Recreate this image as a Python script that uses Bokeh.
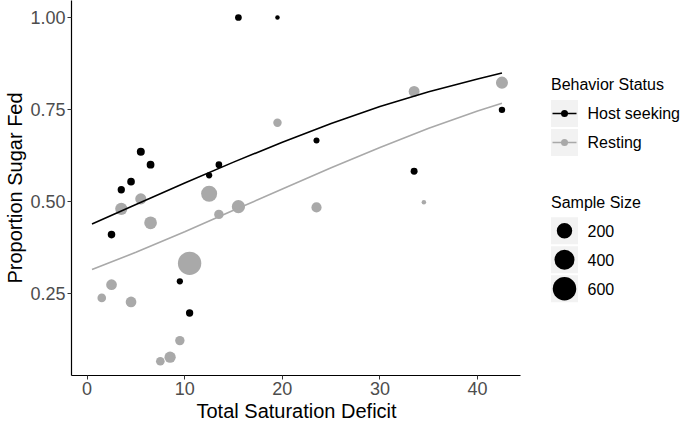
from bokeh.plotting import figure
from bokeh.models import Range1d, NumeralTickFormatter, FixedTicker, Title
from bokeh.core.properties import value
from bokeh.embed import file_html
from bokeh.resources import INLINE
import numpy as np

# ---------------- data ----------------
host_x = [2.5, 3.5, 4.5, 5.5, 6.5, 9.5, 10.5, 12.5, 13.5, 15.5, 19.5, 23.5, 33.5, 42.5]
host_y = [0.410, 0.532, 0.554, 0.635, 0.600, 0.283, 0.197, 0.571, 0.600, 1.000, 1.000, 0.666, 0.582, 0.749]
host_n = [17, 15, 18, 22, 20, 7, 15, 7, 10, 10, 2, 6, 12, 8]

rest_x = [1.5, 2.5, 3.5, 4.5, 5.5, 6.5, 7.5, 8.5, 9.5, 10.5, 12.5, 13.5, 15.5, 19.5, 23.5, 33.5, 34.5, 42.5]
rest_y = [0.238, 0.274, 0.480, 0.227, 0.507, 0.442, 0.066, 0.077, 0.122, 0.332, 0.521, 0.465, 0.486, 0.714, 0.484, 0.799, 0.498, 0.823]
rest_n = [30, 66, 100, 66, 75, 113, 30, 78, 41, 590, 221, 43, 130, 28, 55, 70, 2, 96]

fit_x = [0.5, 5, 10, 15, 20, 25, 30, 35, 40, 42.5]
host_fit = [0.439, 0.492, 0.550, 0.607, 0.661, 0.712, 0.758, 0.798, 0.833, 0.849]
rest_fit = [0.315, 0.362, 0.418, 0.476, 0.534, 0.592, 0.647, 0.699, 0.746, 0.767]

x_ticks = [0, 10, 20, 30, 40]
y_ticks = [0.25, 0.50, 0.75, 1.00]
x_title = "Total Saturation Deficit"
y_title = "Proportion Sugar Fed"
status_labels = ["Host seeking", "Resting"]
size_breaks = [200, 400, 600]

# ---------------- style ----------------
FONT = "Liberation Sans"
BLACK = "#000000"
GREY = "#A9A9A9"
KEY_BG = "#F2F2F2"

FRAME_L, FRAME_R, FRAME_T, FRAME_B = 71, 682, 0, 375   # pixels
PX_PER_X = 9.761
PX_PER_Y = 368.0
X0 = -1.6
X_AXIS_END = 44.4
Y_TOP = 1.0462


def diam(n):
    return 4.5 + 0.777 * np.sqrt(np.maximum(np.asarray(n, dtype=float) - 2, 0))


p = figure(frame_width=FRAME_R - FRAME_L, frame_height=FRAME_B - FRAME_T,
           x_range=Range1d(X0, X0 + (FRAME_R - FRAME_L) / PX_PER_X),
           y_range=Range1d(Y_TOP - (FRAME_B - FRAME_T) / PX_PER_Y, Y_TOP),
           output_backend="svg", toolbar_location=None,
           min_border_left=FRAME_L, min_border_right=0, min_border_top=0, min_border_bottom=0)
p.outline_line_color = None
p.grid.visible = False
p.extra_x_ranges = {"lx": Range1d(FRAME_L, FRAME_R)}
p.extra_y_ranges = {"ly": Range1d(FRAME_B, FRAME_T)}

p.scatter(rest_x, rest_y, size=diam(rest_n), fill_color=GREY, line_color=None)
p.scatter(host_x, host_y, size=diam(host_n), fill_color=BLACK, line_color=None)
p.line(fit_x, host_fit, line_color=BLACK, line_width=1.6)
p.line(fit_x, rest_fit, line_color=GREY, line_width=1.6)

p.xaxis.ticker = FixedTicker(ticks=x_ticks)
p.yaxis.ticker = FixedTicker(ticks=y_ticks)
p.yaxis.formatter = NumeralTickFormatter(format="0.00")
p.xaxis.bounds = (X0, X_AXIS_END)
p.yaxis.axis_label = y_title
for ax in (p.xaxis, p.yaxis):
    ax.axis_line_color = BLACK
    ax.axis_line_width = 1.2
    ax.major_tick_line_color = "#333333"
    ax.major_tick_in = 0
    ax.major_tick_out = 4
    ax.minor_tick_line_color = None
    ax.major_label_text_font = FONT
    ax.major_label_text_font_size = "18px"
    ax.major_label_text_color = "#4D4D4D"
    ax.major_label_standoff = 2
    ax.axis_label_text_font = FONT
    ax.axis_label_text_font_size = "20px"
    ax.axis_label_text_font_style = "normal"
    ax.axis_label_text_color = BLACK
    ax.axis_label_standoff = 1

# x-axis title centred under the axis line (not under the whole frame)
p.add_layout(Title(text=x_title, align="left", offset=125, standoff=0,
                   text_font=FONT, text_font_size="20px", text_font_style="normal",
                   text_color=BLACK), "below")

# ---------------- legends (pixel coordinates via extra ranges) ----------------
key_x = 564
title_x = 550.5
label_x = 587
status_y = [113, 142]
size_y = [230.3, 259.3, 288.3]
L = dict(x_range_name="lx", y_range_name="ly")

p.text(x=[title_x, title_x], y=[84, 201.7], text=["Behavior Status", "Sample Size"],
       text_font=value(FONT), text_font_size="16px", text_baseline="middle",
       text_color=BLACK, **L)
p.rect(x=[key_x] * 5, y=status_y + size_y, width=27, height=27,
       fill_color=KEY_BG, line_color=None, **L)
p.segment(x0=[key_x - 12] * 2, y0=status_y, x1=[key_x + 12] * 2, y1=status_y,
          line_color=[BLACK, GREY], line_width=1.6, **L)
p.scatter(x=[key_x] * 2, y=status_y, size=7, fill_color=[BLACK, GREY], line_color=None, **L)
p.scatter(x=[key_x] * 3, y=size_y, size=diam(size_breaks), fill_color=BLACK,
          line_color=None, **L)
p.text(x=[label_x] * 5, y=status_y + size_y,
       text=status_labels + [str(b) for b in size_breaks],
       text_font=value(FONT), text_font_size="16px", text_baseline="middle",
       text_color=BLACK, **L)

open("out.html", "w").write(file_html(p, INLINE))
